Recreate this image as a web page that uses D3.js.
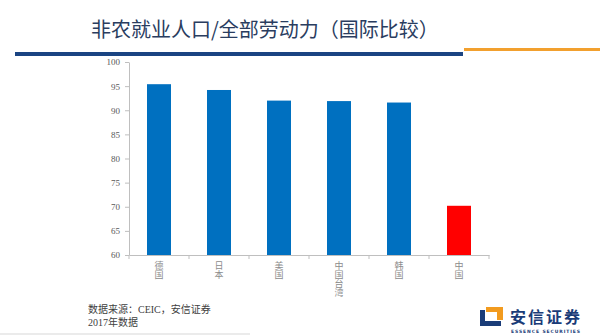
<!DOCTYPE html>
<html>
<head>
<meta charset="utf-8">
<script src="https://cdn.jsdelivr.net/npm/d3@7"></script>
<style>
  html, body { margin: 0; padding: 0; background: #ffffff; }
  svg { display: block; }
</style>
</head>
<body>
<svg id="chart" width="600" height="336"></svg>
<script>
// ---- data ----
const categories = ["德国", "日本", "美国", "中国台湾", "韩国", "中国"];
const values = [95.4, 94.2, 92.0, 91.9, 91.6, 70.2];
const barColors = ["#0070c0", "#0070c0", "#0070c0", "#0070c0", "#0070c0", "#ff0000"];
const yTicks = [60, 65, 70, 75, 80, 85, 90, 95, 100];
const titleText = "非农就业人口/全部劳动力（国际比较）";
const sourceLines = ["数据来源：CEIC，安信证券", "2017年数据"];

const svg = d3.select("#chart");

// ---- header ----
svg.append("text")
  .attr("x", 91).attr("y", 37)
  .attr("font-family", "'Noto Sans CJK SC', sans-serif")
  .attr("font-size", 20)
  .attr("fill", "#2a3d5f")
  .text(titleText);

svg.append("rect").attr("x", 15).attr("y", 52).attr("width", 448).attr("height", 4).attr("fill", "#1a4482");
svg.append("rect").attr("x", 464).attr("y", 48).attr("width", 136).attr("height", 3).attr("fill", "#f2a02e");

// ---- scales ----
const x = d3.scaleBand().domain(categories).range([129, 489]).paddingInner(0.6).paddingOuter(0.3);
const y = d3.scaleLinear().domain([60, 100]).range([255, 62]);

// ---- y axis ----
const yAxis = svg.append("g")
  .attr("transform", "translate(129,0)")
  .call(d3.axisLeft(y).tickValues(yTicks).tickSize(4).tickSizeOuter(0).tickPadding(5));
yAxis.select(".domain").attr("stroke", "#bfbfbf");
yAxis.selectAll(".tick line").attr("stroke", "#bfbfbf");
yAxis.selectAll(".tick text")
  .attr("font-family", "'Liberation Serif', serif")
  .attr("font-size", 9)
  .attr("fill", "#595959");

// ---- bars ----
svg.append("g").selectAll("rect")
  .data(categories)
  .join("rect")
  .attr("x", d => x(d))
  .attr("y", (d, i) => y(values[i]))
  .attr("width", x.bandwidth())
  .attr("height", (d, i) => y(60) - y(values[i]))
  .attr("fill", (d, i) => barColors[i]);

// ---- x axis ----
const xAxis = svg.append("g")
  .attr("transform", "translate(0,255)")
  .call(d3.axisBottom(x).tickSize(0).tickSizeOuter(0).tickFormat(""));
xAxis.select(".domain").attr("stroke", "#bfbfbf");
const step = x.step();
const boundaries = categories.map(d => x(d) - step * x.paddingOuter())
  .concat([x(categories[categories.length - 1]) + x.bandwidth() + step * x.paddingOuter()]);
svg.append("g").selectAll("line")
  .data(boundaries)
  .join("line")
  .attr("x1", d => d).attr("x2", d => d)
  .attr("y1", 255).attr("y2", 259)
  .attr("stroke", "#bfbfbf");

// category labels, vertical (upright stacked characters)
svg.append("g").selectAll("text")
  .data(categories)
  .join("text")
  .attr("x", d => x(d) + x.bandwidth() / 2)
  .attr("y", 261)
  .attr("font-family", "'Noto Sans CJK SC', sans-serif")
  .attr("font-size", 9)
  .attr("fill", "#8c8c8c")
  .style("writing-mode", "vertical-rl")
  .style("text-orientation", "upright")
  .text(d => d);

// ---- source notes ----
svg.append("g").selectAll("text")
  .data(sourceLines)
  .join("text")
  .attr("x", 88)
  .attr("y", (d, i) => 313 + i * 12.5)
  .attr("font-family", "'Liberation Serif', 'Noto Sans CJK SC', serif")
  .attr("font-size", 10)
  .attr("fill", "#404040")
  .text(d => d);

svg.append("rect").attr("x", 0).attr("y", 333).attr("width", 250).attr("height", 2).attr("fill", "#ebebeb");

// ---- logo ----
const logo = svg.append("g");
logo.append("path").attr("d", "M480,310 L485,310 L485,321 L501,321 L501,326 L480,326 Z").attr("fill", "#1a3c78");
logo.append("path").attr("d", "M486,307 L503,307 L503,320 L497,320 L497,312 L486,312 Z").attr("fill", "#f29b1f");
logo.append("text")
  .attr("x", 510).attr("y", 323)
  .attr("font-family", "'Noto Sans CJK SC', sans-serif")
  .attr("font-size", 16).attr("font-weight", "bold")
  .attr("fill", "#1a3c78")
  .attr("textLength", 70)
  .text("安信证券");
logo.append("text")
  .attr("x", 511).attr("y", 332.5)
  .attr("font-family", "'DejaVu Sans', sans-serif")
  .attr("font-size", 4.5).attr("font-weight", "bold")
  .attr("fill", "#1a3c78")
  .attr("textLength", 69)
  .text("ESSENCE SECURITIES");
</script>
</body>
</html>
